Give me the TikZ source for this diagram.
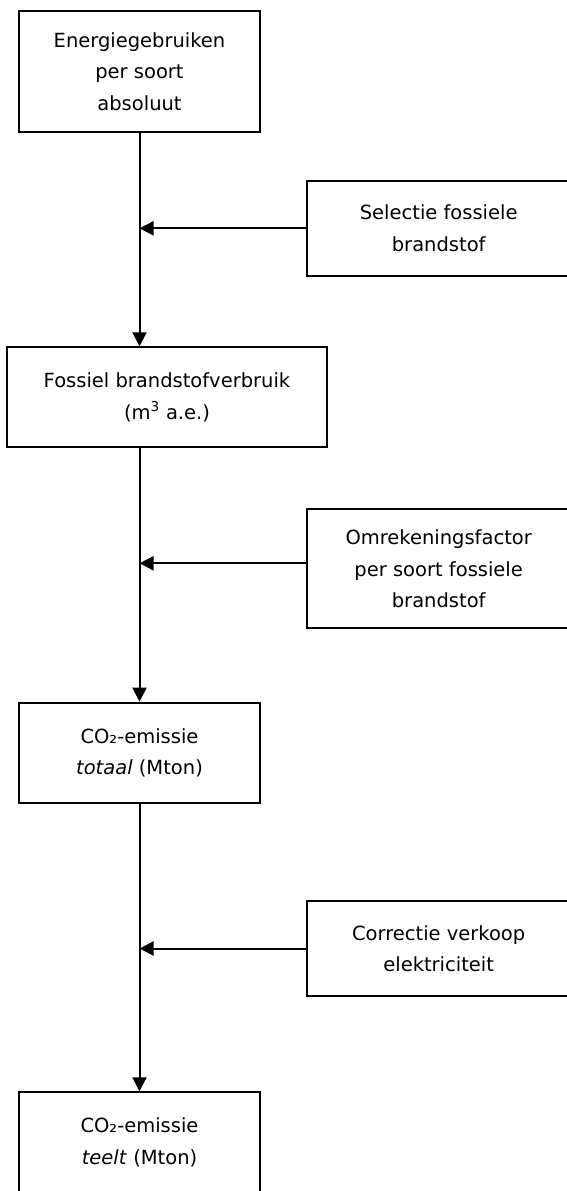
\documentclass[tikz,border=0pt]{standalone}
\usepackage{fontspec}
\setmainfont{DejaVu Sans}
\usetikzlibrary{arrows.meta}
\tikzset{
    boite/.style={draw, line width=2pt, inner sep=0pt, align=center},
    fleche/.style={line width=2pt, -{Triangle[length=14pt, width=14pt]}}
}

\begin{document}
\begin{tikzpicture}[x=1pt, y=-1pt, font=\fontsize{19.5}{31.5}\selectfont]

    \useasboundingbox (0,0) rectangle (567,1191);
    \clip (0,0) rectangle (567,1191);

    % Colonne principale
    \node[boite, minimum width=241pt, minimum height=120.7pt]
        (energie) at (139.5,71.4) {Energiegebruiken\\per soort\\absoluut};
    \node[boite, minimum width=319.4pt, minimum height=100pt]
        (fossiel) at (167,397.3) {Fossiel brandstofverbruik\\(m\textsuperscript{3} a.e.)};
    \node[boite, minimum width=241pt, minimum height=100.6pt]
        (totaal) at (139.5,753) {CO₂-emissie\\\textit{totaal} (Mton)};
    \node[boite, minimum width=241pt, minimum height=100.6pt]
        (teelt) at (139.5,1142.6) {CO₂-emissie\\\textit{teelt} (Mton)};

    % Boites de droite
    \node[boite, minimum width=264pt, minimum height=95.3pt]
        (selectie) at (438.7,228.3) {Selectie fossiele\\brandstof};
    \node[boite, minimum width=264pt, minimum height=119pt]
        (omrekening) at (438.7,568.8) {Omrekeningsfactor\\per soort fossiele\\brandstof};
    \node[boite, minimum width=264pt, minimum height=95pt]
        (correctie) at (438.7,948.5) {Correctie verkoop\\elektriciteit};

    % Fleches verticales
    \draw[fleche] (energie.south) -- (energie.south |- fossiel.north);
    \draw[fleche] (fossiel.south -| totaal.north) -- (totaal.north);
    \draw[fleche] (totaal.south) -- (teelt.north);

    % Fleches horizontales
    \draw[fleche] (selectie.west) -- (selectie.west -| energie.south);
    \draw[fleche] ([yshift=5.5pt]omrekening.west) -- ([yshift=5.5pt]omrekening.west -| totaal.north);
    \draw[fleche] (correctie.west) -- (correctie.west -| totaal.south);

\end{tikzpicture}
\end{document}
